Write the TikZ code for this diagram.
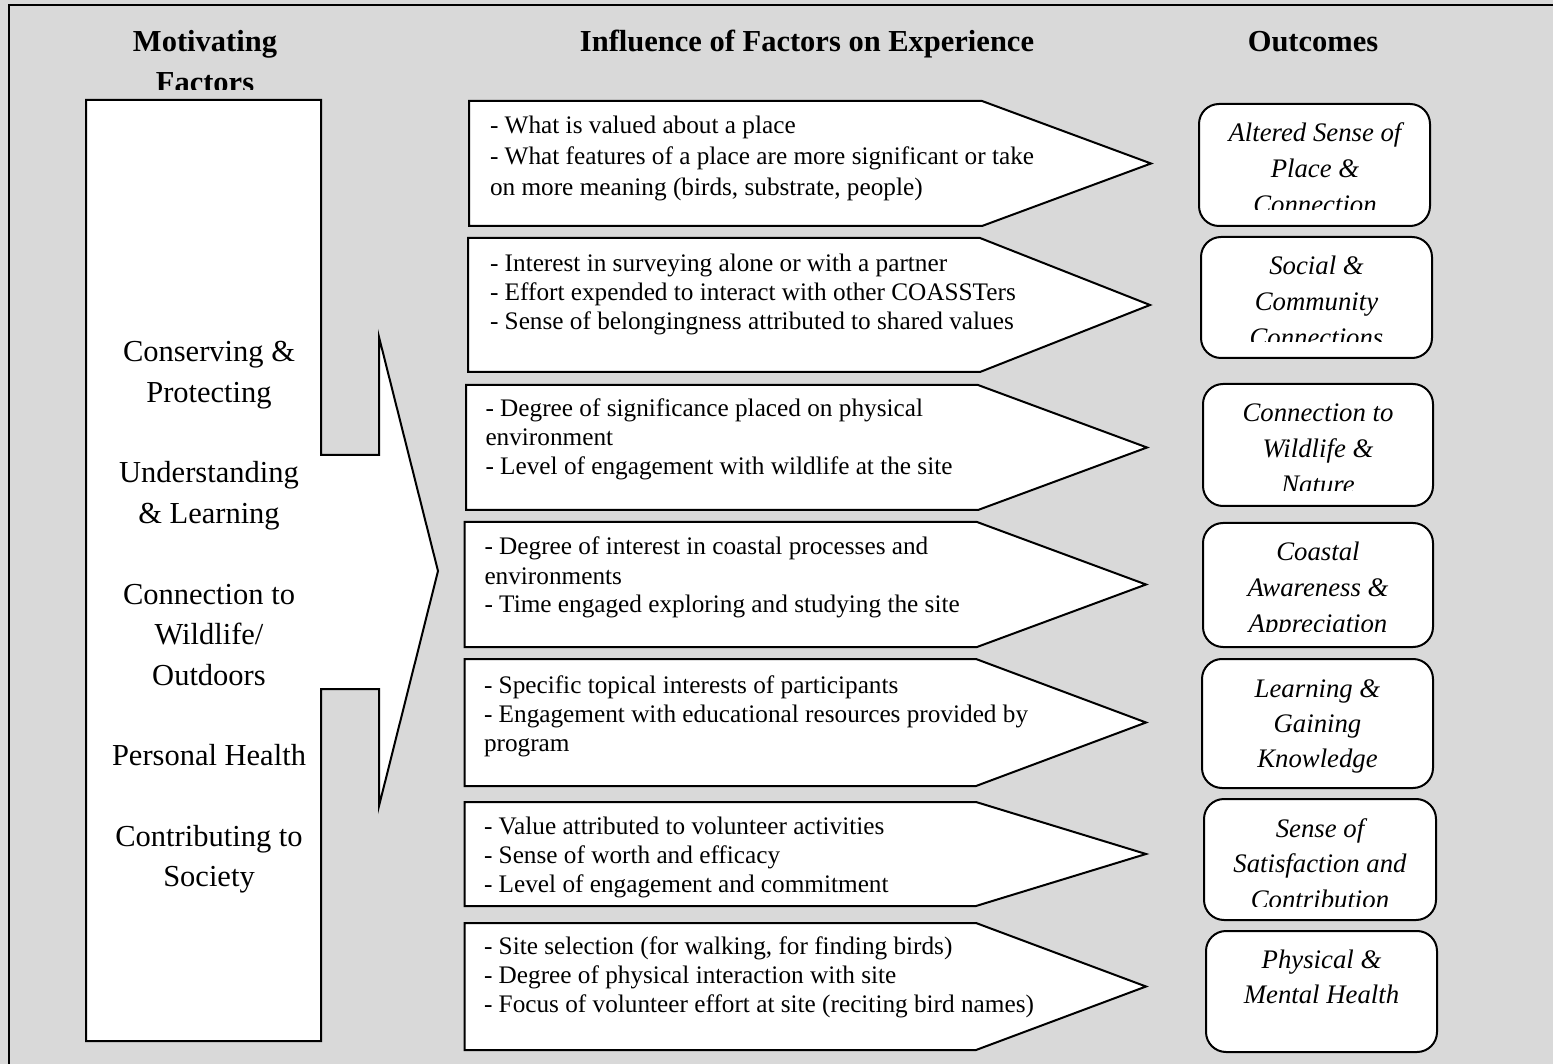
\documentclass[tikz,border=0pt]{standalone}
\usepackage{fontspec}
\setmainfont{Liberation Serif}
\definecolor{panel}{HTML}{D9D9D9}
\tikzset{
  outline/.style={draw=black, line width=0.8pt, fill=white, line join=miter},
  outcomebox/.style={draw=black, line width=0.8pt, fill=white, rounded corners=8pt},
  header/.style={font=\bfseries\fontsize{12.2pt}{15.4pt}\selectfont, anchor=base, inner sep=0pt},
  motive/.style={font=\fontsize{12.2pt}{16.25pt}\selectfont, anchor=base, inner sep=0pt},
  influence/.style={font=\fontsize{10.1pt}{11.6pt}\selectfont, anchor=base west, inner sep=0pt},
  outcome/.style={font=\itshape\fontsize{10.7pt}{14.3pt}\selectfont, anchor=base, inner sep=0pt}
}
\newcommand{\ctext}[1]{\parbox[t]{70mm}{\centering #1}}
\newcommand{\ltext}[1]{\parbox[t]{120mm}{\raggedright #1}}
\begin{document}
\begin{tikzpicture}[x=0.4pt, y=-0.4pt]
\useasboundingbox (0,0) rectangle (1553,1064);
% panel and its frame
\fill[panel] (0,0) rectangle (1553,1064);
\draw[line width=0.8pt] (9,1120) -- (9,5) -- (1610,5);

% column headings
\begin{scope}
  \clip (0,0) rectangle (420,89.5);
  \node[header] (hmotive) at (205,52) {\ctext{Motivating\\[0.8pt]Factors}};
\end{scope}
\node[header] (hinfluence) at (807,52) {Influence of Factors on Experience};
\node[header] (houtcome) at (1313,52) {Outcomes};

% motivating factors: tall box with a broad arrow
\draw[outline] (86,100) -- (321,100) -- (321,455) -- (379,455) -- (379,337)
  -- (438,571) -- (379,806) -- (379,689) -- (321,689) -- (321,1041)
  -- (86,1041) -- cycle;
\node[motive] (motives) at (209,362) {\ctext{Conserving \&\\Protecting\\[15.9pt]%
Understanding\\\& Learning\\[15.9pt]Connection to\\Wildlife/\\Outdoors\\[15.9pt]%
Personal Health\\[15.9pt]Contributing to\\Society}};

% influence arrows
\draw[outline] (469,101) -- (982,101) -- (1151,163.5) -- (982,226) -- (469,226) -- cycle;
\draw[outline] (468,238) -- (980,238) -- (1150,305) -- (980,372) -- (468,372) -- cycle;
\draw[outline] (466,385) -- (978,385) -- (1147,447.5) -- (978,510) -- (466,510) -- cycle;
\draw[outline] (464.5,522) -- (977,522) -- (1146,584.5) -- (977,647) -- (464.5,647) -- cycle;
\draw[outline] (464.5,659) -- (976,659) -- (1146,722.5) -- (976,786) -- (464.5,786) -- cycle;
\draw[outline] (464.5,802) -- (976,802) -- (1146,854) -- (976,906) -- (464.5,906) -- cycle;
\draw[outline] (464.5,923) -- (976,923) -- (1146,986.5) -- (976,1050) -- (464.5,1050) -- cycle;

\node[influence, font=\fontsize{10.1pt}{12.3pt}\selectfont] (place) at (489.5,134) {\ltext{%
- What is valued about a place\\
- What features of a place are more significant or take\\
on more meaning (birds, substrate, people)}};
\node[influence] (social) at (489.5,272) {\ltext{%
- Interest in surveying alone or with a partner\\
- Effort expended to interact with other COASSTers\\
- Sense of belongingness attributed to shared values}};
\node[influence] (wildlife) at (485,417) {\ltext{%
- Degree of significance placed on physical\\
environment\\
- Level of engagement with wildlife at the site}};
\node[influence] (coastal) at (484,555) {\ltext{%
- Degree of interest in coastal processes and\\
environments\\
- Time engaged exploring and studying the site}};
\node[influence] (learning) at (483.5,693) {\ltext{%
- Specific topical interests of participants\\
- Engagement with educational resources provided by\\
program}};
\node[influence] (worth) at (483.5,834) {\ltext{%
- Value attributed to volunteer activities\\
- Sense of worth and efficacy\\
- Level of engagement and commitment}};
\node[influence] (health) at (483.5,954) {\ltext{%
- Site selection (for walking, for finding birds)\\
- Degree of physical interaction with site\\
- Focus of volunteer effort at site (reciting bird names)}};

% outcome boxes
\draw[outcomebox] (1199,104) rectangle (1430,226);
\draw[outcomebox] (1201,237) rectangle (1432,358);
\draw[outcomebox] (1203,384) rectangle (1433,506);
\draw[outcomebox] (1203,523) rectangle (1433,647);
\draw[outcomebox] (1202,659) rectangle (1433,788);
\draw[outcomebox] (1204,799) rectangle (1436,920);
\draw[outcomebox] (1206,931) rectangle (1437,1052);

\begin{scope}
  \clip (1190,110) rectangle (1440,209.5);
  \node[outcome] (oplace) at (1315,142) {\ctext{Altered Sense of\\Place \&\\Connection}};
\end{scope}
\begin{scope}
  \clip (1190,240) rectangle (1440,342);
  \node[outcome] (osocial) at (1316.5,275) {\ctext{Social \&\\Community\\Connections}};
\end{scope}
\begin{scope}
  \clip (1190,390) rectangle (1440,491);
  \node[outcome] (owildlife) at (1318,422) {\ctext{Connection to\\Wildlife \&\\Nature}};
\end{scope}
\begin{scope}
  \clip (1190,525) rectangle (1440,631);
  \node[outcome] (ocoastal) at (1318,561) {\ctext{Coastal\\Awareness \&\\Appreciation}};
\end{scope}
\node[outcome, font=\itshape\fontsize{10.7pt}{14pt}\selectfont] (olearning) at (1317.5,697) {\ctext{Learning \&\\Gaining\\Knowledge}};
\begin{scope}
  \clip (1190,802) rectangle (1440,906);
  \node[outcome] (oworth) at (1320,837) {\ctext{Sense of\\Satisfaction and\\Contribution}};
\end{scope}
\node[outcome] (ohealth) at (1321.5,968) {\ctext{Physical \&\\Mental Health}};
\end{tikzpicture}
\end{document}
